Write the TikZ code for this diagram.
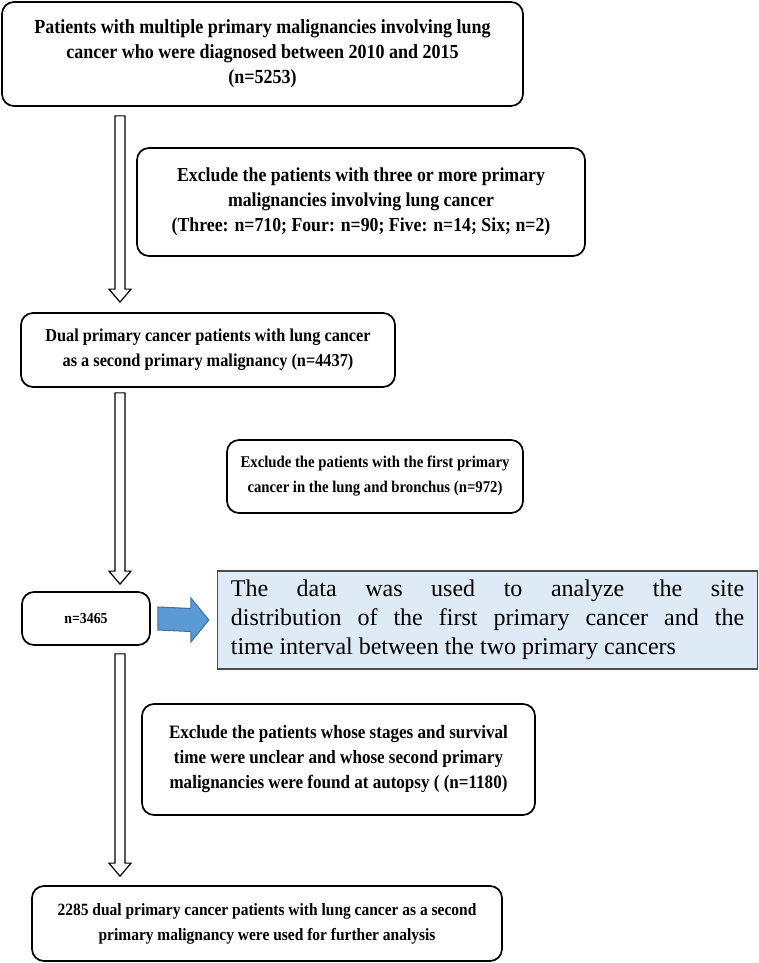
\documentclass[tikz,border=0pt]{standalone}
\usepackage{fontspec}
\setmainfont{Liberation Serif}[FakeStretch=0.9]
\newfontfamily\notefont{Liberation Serif}
\usetikzlibrary{calc}
\definecolor{paleblue}{HTML}{DEEBF7}
\definecolor{arrowblue}{HTML}{5B9BD5}
\definecolor{arrowedge}{HTML}{41719C}

% hollow downward arrow from #1 to the tip #2
\newcommand{\hollowdown}[2]{%
  \draw[hollow arrow] ($(#1)+(-5,0)$) -- ($(#2)+(-5,-13)$) -- ($(#2)+(-11,-13)$) -- (#2)
    -- ($(#2)+(11,-13)$) -- ($(#2)+(5,-13)$) -- ($(#1)+(5,0)$) -- cycle;}

\begin{document}
\begin{tikzpicture}[
			     x=0.75pt, y=-0.75pt,
			     flowbox/.style={draw, line width=1.3pt, rounded corners=9pt, align=center, inner sep=0pt,
			       font=\bfseries\fontsize{#1}{18.75}\selectfont},
			     notebox/.style={draw=black!70, line width=1pt, fill=paleblue, text width=385pt, align=justify,
			       inner xsep=10pt, inner ysep=0pt, font=\notefont\fontsize{18}{21.75}\selectfont},
			     hollow arrow/.style={draw, line width=0.9pt, fill=white},
			     fat arrow/.style={draw=arrowedge, line width=0.8pt, fill=arrowblue}
			     ]
\useasboundingbox (0,0) rectangle (758,963);
\coordinate (axis) at (120,0);

\node[flowbox=15, minimum width=390.75pt, minimum height=78pt] (total) at (262.5,54)
  {Patients with multiple primary malignancies involving lung\\ cancer who were diagnosed between 2010 and 2015\\ (n=5253)};
\node[flowbox=14.8, minimum width=336pt, minimum height=81pt] (excl1) at (361,202)
  {Exclude the patients with three or more primary\\ malignancies involving lung cancer\\ (Three: n=710; Four: n=90; Five: n=14; Six; n=2)};
\node[flowbox=13.6, minimum width=280.5pt, minimum height=55.5pt] (dual) at (208,350)
  {Dual primary cancer patients with lung cancer\\ as a second primary malignancy (n=4437)};
\node[flowbox=12.3, minimum width=222pt, minimum height=54.75pt] (excl2) at (375,476.5)
  {Exclude the patients with the first primary\\ cancer in the lung and bronchus (n=972)};
\node[flowbox=11.5, minimum width=96pt, minimum height=39.75pt] (rest) at (86,618.5) {n=3465};
\node[notebox, minimum height=73.5pt] (note) at (487.5,620)
  {The data was used to analyze the site\linebreak distribution of the first primary cancer and the\linebreak time interval between the two primary cancers};
\node[flowbox=14.2, minimum width=294.75pt, minimum height=83.25pt] (excl3) at (338.5,759.5)
  {Exclude the patients whose stages and survival\\ time were unclear and whose second primary\\ malignancies were found at autopsy ( (n=1180)};
\node[flowbox=12.9, minimum width=352.5pt, minimum height=56.25pt] (final) at (267,923.5)
  {2285 dual primary cancer patients with lung cancer as a second\\ primary malignancy were used for further analysis};

\hollowdown{$(total.south -| axis)+(0,9)$}{$(dual.north -| axis)+(0,-10)$}
\hollowdown{$(dual.south -| axis)+(0,5)$}{$(rest.north -| axis)+(0,-7)$}
\hollowdown{$(rest.south -| axis)+(0,8)$}{$(final.north -| axis)+(0,-9)$}

\coordinate (fa) at ($(rest.east)+(7,0)$);
\coordinate (fb) at ($(note.west)+(-8,0)$);
\draw[fat arrow] ($(fa)+(0,-11.5)$) -- ($(fb)+(-18,-11.5)$) -- ($(fb)+(-18,-22)$) -- (fb)
  -- ($(fb)+(-18,22)$) -- ($(fb)+(-18,11.5)$) -- ($(fa)+(0,11.5)$) -- cycle;
\end{tikzpicture}
\end{document}
